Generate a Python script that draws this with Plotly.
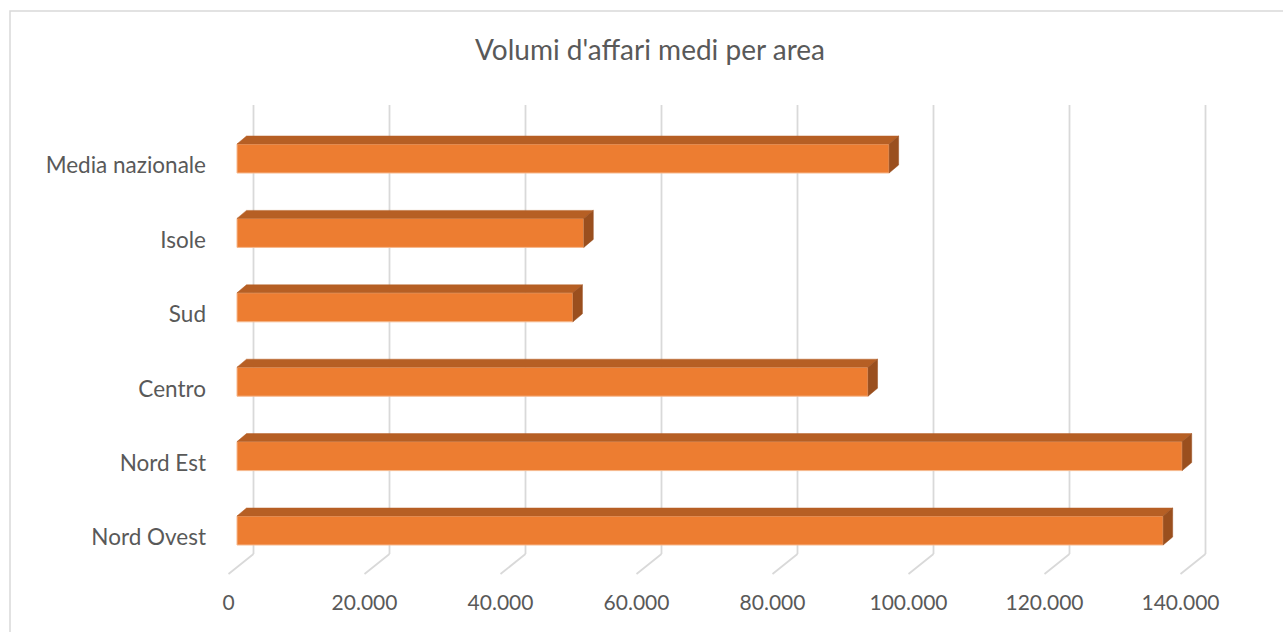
import plotly.graph_objects as go

# ---- data ----
categories = ["Nord Ovest", "Nord Est", "Centro", "Sud", "Isole", "Media nazionale"]
values = [136200, 139000, 92800, 49400, 51000, 95900]
tick_values = [0, 20000, 40000, 60000, 80000, 100000, 120000, 140000]
tick_labels = ["0", "20.000", "40.000", "60.000", "80.000", "100.000", "120.000", "140.000"]
title_text = "Volumi d'affari medi per area"

# ---- layout geometry (pixels) ----
W, H = 1283, 632
L_PX, R_PX, T_PX, B_PX = 212, 1257, 95, 588
X0_PX = 237.0          # pixel of value 0 on bar front plane
PX_PER_UNIT_X = 136.0 / 20000
Y0_PX = 530.5          # pixel of first category centre
PX_PER_CAT = 74.4

def ux(px):  # pixel offset -> x data units
    return px / PX_PER_UNIT_X

def uy(px):
    return px / PX_PER_CAT

x_range = [(L_PX - X0_PX) / PX_PER_UNIT_X, (R_PX - X0_PX) / PX_PER_UNIT_X]
y_range = [(Y0_PX - B_PX) / PX_PER_CAT, (Y0_PX - T_PX) / PX_PER_CAT]

# 3D-ish offsets
back_dx = ux(16.5)
front_dx = ux(-8.5)
grid_bottom = (Y0_PX - 554) / PX_PER_CAT
grid_top = (Y0_PX - 105) / PX_PER_CAT
floor_front = (Y0_PX - 574) / PX_PER_CAT
depth_dx = ux(9.5)
depth_dy = uy(8)
half_h = uy(29) / 2
label_dy = uy(7)

front_col = "#ED7D31"
top_col = "#B65F24"
side_col = "#9A4F1E"
grid_col = "#D9D9D9"
text_col = "#595959"

fig = go.Figure()

shapes = []
# back grid lines and floor diagonals (drawn below the bars)
for v in tick_values:
    shapes.append(dict(type="line", xref="x", yref="y", x0=v + back_dx, x1=v + back_dx,
                       y0=grid_bottom, y1=grid_top, layer="below",
                       line=dict(color=grid_col, width=1.8)))
    shapes.append(dict(type="line", xref="x", yref="y", x0=v + back_dx, x1=v + front_dx,
                       y0=grid_bottom, y1=floor_front, layer="below",
                       line=dict(color=grid_col, width=1.8)))

# chart border
shapes.append(dict(type="rect", xref="paper", yref="paper",
                   x0=(10 - L_PX) / (R_PX - L_PX), x1=(1300 - L_PX) / (R_PX - L_PX),
                   y0=(B_PX - 650) / (B_PX - T_PX), y1=(B_PX - 11) / (B_PX - T_PX),
                   line=dict(color=grid_col, width=1.5), fillcolor="rgba(0,0,0,0)", layer="below"))

ypos = list(range(len(categories)))

# front faces
fig.add_trace(go.Bar(x=values, y=ypos, orientation="h", width=2 * half_h,
                     marker=dict(color=front_col, line=dict(color="#F6B98E", width=1)),
                     showlegend=False, hovertext=categories))

# top and side faces
for i, v in enumerate(values):
    yt = i + half_h
    yb = i - half_h
    fig.add_trace(go.Scatter(
        x=[0, depth_dx, v + depth_dx, v, 0],
        y=[yt, yt + depth_dy, yt + depth_dy, yt, yt],
        mode="lines", fill="toself", fillcolor=top_col,
        line=dict(color=top_col, width=0.5), hoverinfo="skip", showlegend=False))
    fig.add_trace(go.Scatter(
        x=[v, v + depth_dx, v + depth_dx, v, v],
        y=[yb, yb + depth_dy, yt + depth_dy, yt, yb],
        mode="lines", fill="toself", fillcolor=side_col,
        line=dict(color=side_col, width=0.5), hoverinfo="skip", showlegend=False))

fig.update_layout(
    width=W, height=H,
    margin=dict(l=L_PX, r=W - R_PX, t=T_PX, b=H - B_PX, pad=0),
    paper_bgcolor="white", plot_bgcolor="white",
    font=dict(family="Lato, Open Sans, sans-serif", color=text_col, size=21),
    title=dict(text=title_text, x=650 / W, xanchor="center", y=1 - 50 / H, yanchor="middle",
               font=dict(size=28, color=text_col)),
    xaxis=dict(range=x_range, showgrid=False, zeroline=False, showline=False,
               tickmode="array", tickvals=[v + front_dx for v in tick_values], ticktext=tick_labels,
               ticks="", tickfont=dict(size=21, color=text_col)),
    yaxis=dict(range=y_range, showgrid=False, zeroline=False, showline=False,
               tickmode="array", tickvals=[p - label_dy for p in ypos], ticktext=categories, ticks="",
               ticklabelstandoff=5, tickfont=dict(size=22.5, color=text_col)),
    shapes=shapes,
)

fig.write_html("out.html")
